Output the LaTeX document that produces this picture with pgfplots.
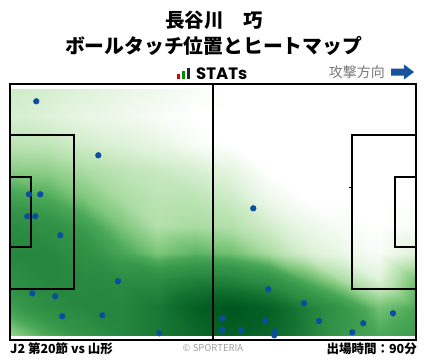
\documentclass[border=0pt]{standalone}
\usepackage{fontspec}
\usepackage{pgfplots}
\pgfplotsset{compat=1.18}
\setmainfont{Noto Sans CJK JP}
\newfontfamily\poppins{Poppins}
\definecolor{dotblue}{RGB}{10,78,160}
\definecolor{arrowblue}{RGB}{22,82,158}
\definecolor{txtgray}{RGB}{120,120,120}
\pgfplotsset{pitchaxis/.style={at={(10pt,-340pt)}, anchor=south west,
  width=406pt, height=256pt, scale only axis,
  xmin=0, xmax=406, ymin=0, ymax=256, hide axis}}
\begin{document}
\begin{tikzpicture}[x=1pt,y=-1pt]
\path[use as bounding box] (0,0) rectangle (428,359);
% heatmap (grid inset by the padding that the interp shading adds under xdvipdfmx)
\begin{axis}[pitchaxis,
  colormap={greens}{rgb255=(255,255,255) rgb255=(222,242,217) rgb255=(180,224,172) rgb255=(125,198,122) rgb255=(75,168,88) rgb255=(55,152,75) rgb255=(45,142,68) rgb255=(32,128,58) rgb255=(18,112,47) rgb255=(6,98,38) rgb255=(0,85,30)},
  point meta min=0, point meta max=1]
\addplot[matrix plot*, shader=interp, mesh/cols=11, point meta=explicit] table[meta=c] {
x y c
18.5 18.5 0.25
55.4 18.5 0.40
92.3 18.5 0.55
129.2 18.5 0.65
166.1 18.5 0.75
203 18.5 0.85
239.9 18.5 0.92
276.8 18.5 0.88
313.7 18.5 0.72
350.6 18.5 0.50
387.5 18.5 0.40
18.5 45.9 0.45
55.4 45.9 0.60
92.3 45.9 0.65
129.2 45.9 0.66
166.1 45.9 0.75
203 45.9 0.92
239.9 45.9 1.00
276.8 45.9 0.92
313.7 45.9 0.72
350.6 45.9 0.52
387.5 45.9 0.32
18.5 73.25 0.60
55.4 73.25 0.65
92.3 73.25 0.64
129.2 73.25 0.62
166.1 73.25 0.62
203 73.25 0.70
239.9 73.25 0.68
276.8 73.25 0.58
313.7 73.25 0.38
350.6 73.25 0.22
387.5 73.25 0.10
18.5 100.6 0.65
55.4 100.6 0.65
92.3 100.6 0.58
129.2 100.6 0.42
166.1 100.6 0.30
203 100.6 0.36
239.9 100.6 0.32
276.8 100.6 0.22
313.7 100.6 0.12
350.6 100.6 0.06
387.5 100.6 0.02
18.5 128 0.62
55.4 128 0.58
92.3 128 0.46
129.2 128 0.30
166.1 128 0.20
203 128 0.22
239.9 128 0.20
276.8 128 0.13
313.7 128 0.06
350.6 128 0.02
387.5 128 0.00
18.5 155.4 0.45
55.4 155.4 0.40
92.3 155.4 0.30
129.2 155.4 0.22
166.1 155.4 0.18
203 155.4 0.18
239.9 155.4 0.14
276.8 155.4 0.05
313.7 155.4 0.00
350.6 155.4 0.00
387.5 155.4 0.00
18.5 182.75 0.28
55.4 182.75 0.27
92.3 182.75 0.22
129.2 182.75 0.18
166.1 182.75 0.15
203 182.75 0.12
239.9 182.75 0.08
276.8 182.75 0.00
313.7 182.75 0.00
350.6 182.75 0.00
387.5 182.75 0.00
18.5 210.1 0.18
55.4 210.1 0.17
92.3 210.1 0.13
129.2 210.1 0.10
166.1 210.1 0.07
203 210.1 0.02
239.9 210.1 0.00
276.8 210.1 0.00
313.7 210.1 0.00
350.6 210.1 0.00
387.5 210.1 0.00
18.5 237.5 0.12
55.4 237.5 0.10
92.3 237.5 0.07
129.2 237.5 0.05
166.1 237.5 0.02
203 237.5 0.00
239.9 237.5 0.00
276.8 237.5 0.00
313.7 237.5 0.00
350.6 237.5 0.00
387.5 237.5 0.00
};
\end{axis}
% header
\node[font=\bfseries\fontsize{19.5}{19.5}\selectfont] at (214,20) {長谷川　巧};
\node[font=\bfseries\fontsize{19.8}{19.8}\selectfont] at (213.5,46) {ボールタッチ位置とヒートマップ};
\fill[red!85!black] (176.7,74) rectangle (180,79.3);
\fill[green!55!black] (181.7,71.3) rectangle (185,79.3);
\fill[black!85] (186.7,68.3) rectangle (190,79.3);
\node[font=\poppins\bfseries\fontsize{16.5}{16.5}\selectfont, anchor=west, inner sep=0pt] at (196,73.5) {STATs};
\node[font=\fontsize{14}{14}\selectfont, text=txtgray, anchor=east, inner sep=0pt] at (385,72) {攻撃方向};
\fill[arrowblue] (391,68.5) -- (404,68.5) -- (404,64.5) -- (414,72) -- (404,79.5) -- (404,75.5) -- (391,75.5) -- cycle;
% footer
\node[font=\bfseries\fontsize{12.5}{12.5}\selectfont, anchor=west, inner sep=0pt] at (10,349) {J2 第20節 vs 山形};
\node[font=\fontsize{9.5}{9.5}\selectfont, text=txtgray!70, inner sep=0pt] at (213,348.5) {© SPORTERIA};
\node[font=\bfseries\fontsize{12.5}{12.5}\selectfont, anchor=east, inner sep=0pt] at (417,349) {出場時間：90分};
% pitch and touches
\begin{axis}[pitchaxis, clip=false]
\pgfplotsset{pitch/.style={black, line width=2.4pt, no marks, forget plot}}
\addplot[pitch] coordinates {(0,0) (406,0) (406,256) (0,256) (0,0)} -- cycle;
\addplot[pitch] coordinates {(203,0) (203,256)};
\addplot[pitch] coordinates {(0,51) (64,51) (64,205) (0,205)};
\addplot[pitch] coordinates {(0,93) (21,93) (21,163) (0,163)};
\addplot[pitch] coordinates {(406,51) (342,51) (342,205) (406,205)};
\addplot[pitch] coordinates {(406,93) (385,93) (385,163) (406,163)};
\addplot[black, line width=0.6pt, no marks, forget plot] coordinates {(339,153) (342,153)};
\addplot[only marks, mark=*, mark size=2.9pt, mark options={fill=dotblue, draw=dotblue}] coordinates {
(26.3,238.7) (88.3,184.7) (19,145.7) (30.3,145.7) (17.3,123.7) (25.3,123.7)
(50.3,104.7) (108,58.7) (22.3,46.7) (45.3,43.7) (52.3,23.7) (92.3,24.7)
(149.3,6.7) (243.3,131.7) (258.3,50.7) (294,36.7) (212.3,21.7) (255.3,19)
(309,19) (383,26.7) (353.3,16.7) (212.3,10) (231.3,10) (265.3,8.7)
(264.3,4.7) (342.3,7.7)
};
\end{axis}
\end{tikzpicture}
\end{document}
